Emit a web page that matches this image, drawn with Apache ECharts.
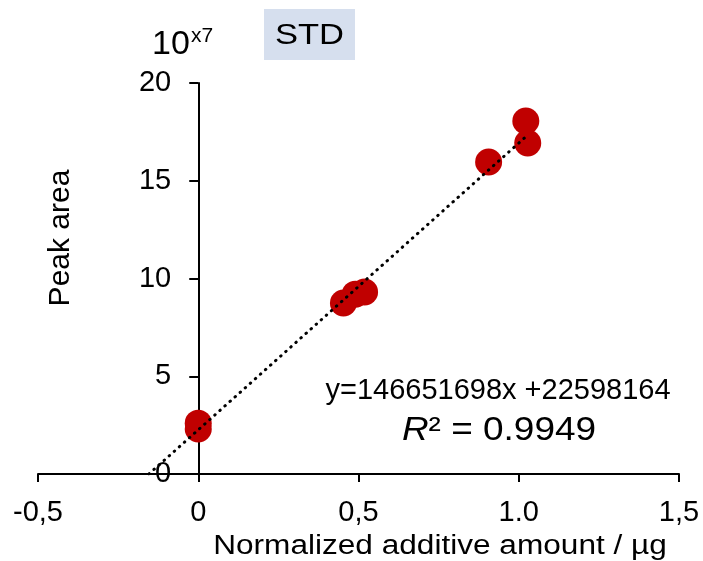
<!DOCTYPE html>
<html><head><meta charset="utf-8">
<script src="https://cdn.jsdelivr.net/npm/echarts@6/dist/echarts.min.js"></script>
<style>html,body{margin:0;padding:0;background:#fff}#c{width:703px;height:561px}</style>
</head><body><div id="c"></div>
<script>
// ---- data ----
const xTickValues = [-0.5, 0, 0.5, 1.0, 1.5];
const xTickLabels = ['-0,5', '0', '0,5', '1.0', '1,5'];
const yTickValues = [0, 5, 10, 15, 20];
const yTickLabels = ['0', '5', '10', '15', '20'];
const amounts   = [0, 0, 0.453, 0.49, 0.519, 0.906, 1.022, 1.028];
const peakAreas = [2.6, 2.3, 8.75, 9.2, 9.31, 15.96, 18.06, 16.93]; // x10^7
const trendX = [-0.154, 1.02];
const trendY = [0, 17.22];
const equationText = 'y=146651698x +22598164';
const r2Text = '0.9949';
const titleText = 'STD';
const xName = 'Normalized additive amount / µg';
const yName = 'Peak area';

const FONT = "'Liberation Sans', Arial, sans-serif";
const chart = echarts.init(document.getElementById('c'), null, {renderer: 'canvas'});

const scatterData = amounts.map((x, i) => [x, peakAreas[i]]);
const trendData = trendX.map((x, i) => [x, trendY[i]]);

const GRID_LEFT = 38, GRID_RIGHT = 24;
const X_MIN = -0.5, X_MAX = 1.5;
// place the y axis at x = 0 (axis + labels + ticks move together)
const gridW = 703 - GRID_LEFT - GRID_RIGHT;
const yAxisOffset = -gridW * (0 - X_MIN) / (X_MAX - X_MIN);

function xLabel(v) {
  const i = xTickValues.findIndex(t => Math.abs(t - v) < 1e-9);
  return i >= 0 ? xTickLabels[i] : '';
}
function yLabel(v) {
  const i = yTickValues.findIndex(t => Math.abs(t - v) < 1e-9);
  return i >= 0 ? yTickLabels[i] : '';
}

chart.setOption({
  animation: false,
  backgroundColor: '#ffffff',
  grid: {left: GRID_LEFT, right: GRID_RIGHT, top: 83, bottom: 87, containLabel: false, outerBoundsMode: 'none'},
  xAxis: {
    type: 'value', min: X_MIN, max: X_MAX, interval: 0.5,
    axisLine: {show: true, onZero: false, lineStyle: {color: '#000', width: 2}},
    axisTick: {show: true, inside: false, length: 8, lineStyle: {color: '#000', width: 2}},
    axisLabel: {formatter: xLabel, color: '#000', fontSize: 29, fontFamily: FONT, margin: 24},
    splitLine: {show: false}
  },
  yAxis: {
    type: 'value', min: 0, max: 20, interval: 5, position: 'left', offset: yAxisOffset,
    axisLine: {show: true, onZero: false, lineStyle: {color: '#000', width: 2}},
    axisTick: {show: true, inside: false, length: 9, lineStyle: {color: '#000', width: 2}},
    axisLabel: {formatter: yLabel, color: '#000', fontSize: 29, fontFamily: FONT, margin: 27},
    splitLine: {show: false}
  },
  series: [
    {
      type: 'line', data: trendData, symbol: 'none', z: 3,
      lineStyle: {color: '#000', width: 3, type: [0.5, 6.3], cap: 'round'}
    },
    {
      type: 'scatter', data: scatterData, symbolSize: 27, z: 2,
      itemStyle: {color: '#C00000', opacity: 1}
    }
  ],
  graphic: [
    {type: 'text', x: 152, y: 45, style: {text: '10', font: '34px ' + FONT, fill: '#000', textAlign: 'left', textVerticalAlign: 'middle', align: 'left', verticalAlign: 'middle'}},
    {type: 'text', x: 191, y: 36, style: {text: 'x7', font: '21px ' + FONT, fill: '#000', textAlign: 'left', textVerticalAlign: 'middle', align: 'left', verticalAlign: 'middle'}},
    {type: 'rect', shape: {x: 264, y: 9, width: 91, height: 51}, style: {fill: '#D6DFEE'}},
    {type: 'text', x: 309.5, y: 36, scaleX: 1.15, style: {text: titleText, font: '30px ' + FONT, fill: '#000', textAlign: 'center', textVerticalAlign: 'middle', align: 'center', verticalAlign: 'middle'}},
    {type: 'text', x: 61, y: 238, rotation: Math.PI / 2, style: {text: yName, font: '30px ' + FONT, fill: '#000', textAlign: 'center', textVerticalAlign: 'middle', align: 'center', verticalAlign: 'middle'}},
    {type: 'text', x: 440, y: 547, scaleX: 1.17, style: {text: xName, font: '27px ' + FONT, fill: '#000', textAlign: 'center', textVerticalAlign: 'middle', align: 'center', verticalAlign: 'middle'}},
    {type: 'text', x: 498, y: 391, style: {text: equationText, font: '29px ' + FONT, fill: '#000', textAlign: 'center', textVerticalAlign: 'middle', align: 'center', verticalAlign: 'middle'}},
    {type: 'text', x: 499, y: 431, scaleX: 1.12, style: {
      text: '{i|R}² = ' + r2Text, font: '33px ' + FONT, fill: '#000', textAlign: 'center', textVerticalAlign: 'middle', align: 'center', verticalAlign: 'middle',
      rich: {i: {fontStyle: 'italic', fontSize: 33, fontFamily: FONT, fill: '#000', color: '#000'}}
    }}
  ]
});
</script>
</body></html>
